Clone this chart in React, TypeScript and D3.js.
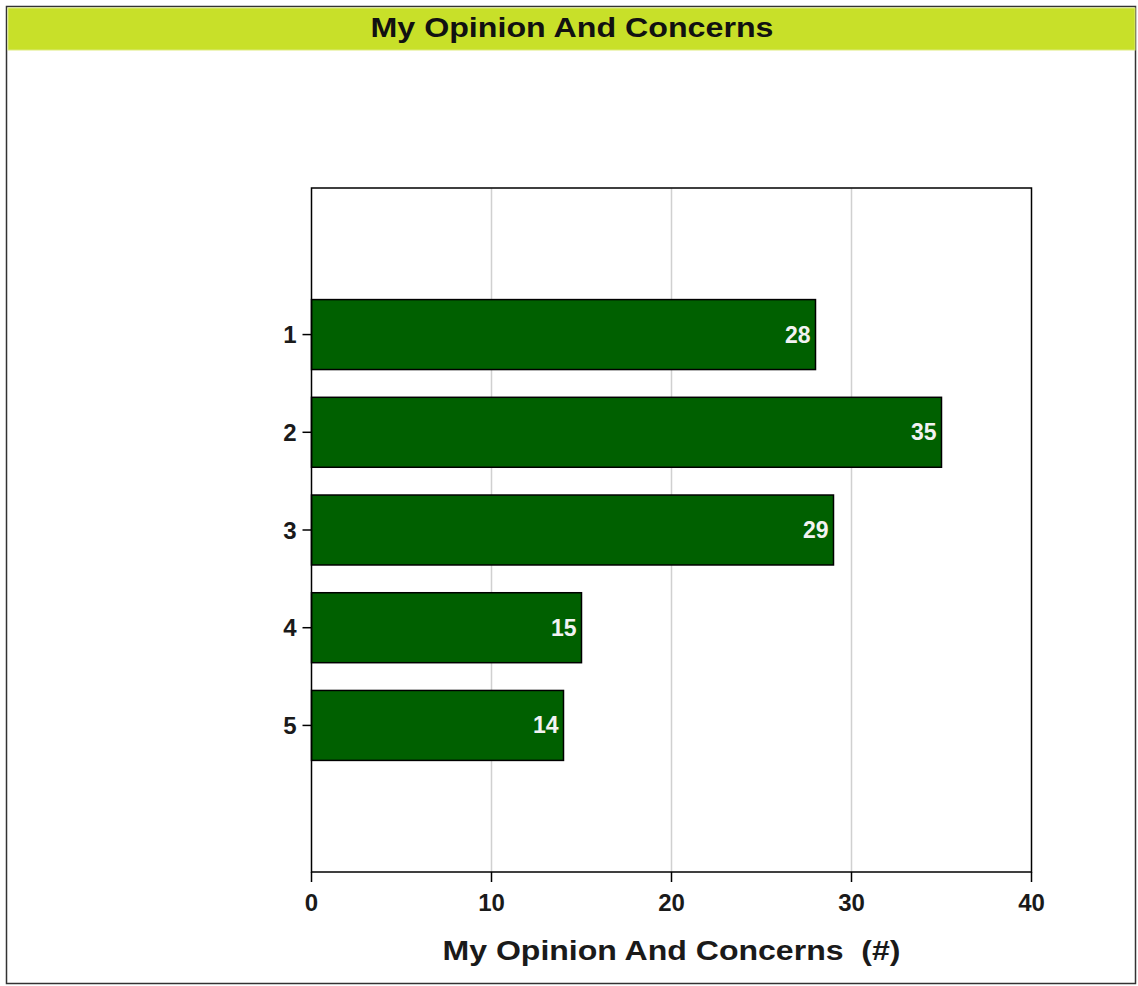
import React from "react";
import * as d3 from "d3";

const categories = ["1", "2", "3", "4", "5"];
const values = [28, 35, 29, 15, 14];
const xTicks = [0, 10, 20, 30, 40];
const chartTitle = "My Opinion And Concerns";
const axisTitle = "My Opinion And Concerns  (#)";

const W = 1138;
const H = 986;
const plot = { left: 311.5, right: 1031.5, top: 188, bottom: 872 };
const FONT = "'Liberation Sans', Arial, Helvetica, sans-serif";
const BAR = "#006000";
const TEXT = "#1a1a1a";

export default function App() {
  const x = d3.scaleLinear().domain([0, 40]).range([plot.left, plot.right]);
  const step = (plot.bottom - plot.top) / 7;
  const y = d3
    .scaleBand<string>()
    .domain(categories)
    .range([plot.top + step, plot.bottom - step])
    .paddingInner(0.284)
    .paddingOuter(0.142);

  return (
    <svg
      width={W}
      height={H}
      style={{ position: "absolute", left: 0, top: 0, background: "#fff" }}
      fontFamily={FONT}
    >
      <rect x={6.5} y={6.5} width={1129} height={977} fill="#fff" stroke="#333" strokeWidth={1.5} />
      <rect x={8} y={8} width={1127} height={42} fill="#C8E029" stroke="#DDEB7A" strokeWidth={1} />
      <text
        x={572}
        y={37}
        textAnchor="middle"
        fontSize={27}
        fontWeight="bold"
        fill="#111"
        textLength={403}
        lengthAdjust="spacingAndGlyphs"
      >
        {chartTitle}
      </text>

      {/* grid lines */}
      {xTicks
        .filter((t) => t > 0 && t < 40)
        .map((t) => (
          <line key={"g" + t} x1={x(t)} x2={x(t)} y1={plot.top} y2={plot.bottom} stroke="#d0d0d0" strokeWidth={1.5} />
        ))}

      {/* bars */}
      {categories.map((c, i) => (
        <g key={c}>
          <rect
            x={x(0)}
            y={y(c)!}
            width={x(values[i]) - x(0)}
            height={y.bandwidth()}
            fill={BAR}
            stroke="#000"
            strokeWidth={1.5}
          />
          <text
            x={x(values[i]) - 5}
            y={y(c)! + y.bandwidth() / 2 + 8}
            textAnchor="end"
            fontSize={23}
            fontWeight="bold"
            fill="#f2f2f2"
          >
            {values[i]}
          </text>
        </g>
      ))}

      {/* plot frame */}
      <rect
        x={plot.left}
        y={plot.top}
        width={plot.right - plot.left}
        height={plot.bottom - plot.top}
        fill="none"
        stroke="#000"
        strokeWidth={1.5}
      />

      {/* y ticks */}
      {categories.map((c) => {
        const cy = y(c)! + y.bandwidth() / 2;
        return (
          <g key={"yt" + c}>
            <line x1={plot.left - 9} x2={plot.left} y1={cy} y2={cy} stroke="#000" strokeWidth={1.5} />
            <text x={plot.left - 15} y={cy + 8.5} textAnchor="end" fontSize={24} fontWeight="bold" fill={TEXT}>
              {c}
            </text>
          </g>
        );
      })}

      {/* x ticks */}
      {xTicks.map((t) => (
        <g key={"xt" + t}>
          <line x1={x(t)} x2={x(t)} y1={plot.bottom} y2={plot.bottom + 10} stroke="#000" strokeWidth={1.5} />
          <text x={x(t)} y={911} textAnchor="middle" fontSize={24} fontWeight="bold" fill={TEXT}>
            {t}
          </text>
        </g>
      ))}

      <text
        x={(plot.left + plot.right) / 2}
        y={960}
        textAnchor="middle"
        fontSize={28}
        fontWeight="bold"
        fill={TEXT}
        textLength={458}
        lengthAdjust="spacingAndGlyphs"
        style={{ whiteSpace: "pre" }}
      >
        {axisTitle}
      </text>
    </svg>
  );
}
